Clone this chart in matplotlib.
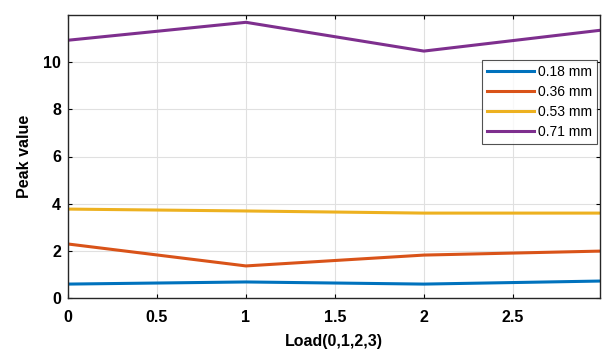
import matplotlib
matplotlib.use("Agg")
import matplotlib.pyplot as plt

loads = [0, 1, 2, 3]
labels = ["0.18 mm", "0.36 mm", "0.53 mm", "0.71 mm"]
s018 = [0.59, 0.68, 0.59, 0.72]
s036 = [2.29, 1.36, 1.82, 1.99]
s053 = [3.77, 3.69, 3.60, 3.60]
s071 = [10.93, 11.69, 10.47, 11.36]
colors = ["#0072BD", "#D95319", "#EDB120", "#7E2F8E"]

plt.rcParams['font.family'] = ['Liberation Sans', 'DejaVu Sans']
fig = plt.figure(figsize=(6.04, 3.52), dpi=100)
ax = fig.add_axes([68/604, 1-298/352, 532/604, 283/352])
for s, c, l in zip([s018, s036, s053, s071], colors, labels):
    ax.plot(loads, s, color=c, lw=2.2, label=l)
ax.set_xlim(0, 2.99)
ax.set_ylim(0, 12)
ax.set_xticks([0, 0.5, 1, 1.5, 2, 2.5])
ax.set_xticklabels(["0", "0.5", "1", "1.5", "2", "2.5"])
ax.set_yticks([0, 2, 4, 6, 8, 10])
ax.grid(True, color="#e0e0e0", lw=0.8)
ax.tick_params(direction="in", length=3, labelsize=11.5, width=0.8, top=True, right=True)
ax.tick_params(axis="x", pad=9)
ax.tick_params(axis="y", pad=5)
for lab in ax.get_xticklabels() + ax.get_yticklabels():
    lab.set_fontweight("bold")
for sp in ax.spines.values():
    sp.set_linewidth(1.0)
    sp.set_color("#262626")
ax.set_xlabel("Load(0,1,2,3)", fontsize=11.5, fontweight="bold", labelpad=6)
ax.set_ylabel("Peak value", fontsize=11.5, fontweight="bold", labelpad=8)
leg = ax.legend(loc="upper right", bbox_to_anchor=(0.9945, 0.84), fontsize=10,
                frameon=True, fancybox=False, edgecolor="#262626", handlelength=3.4,
                handletextpad=0.3, borderpad=0.35, labelspacing=0.42, borderaxespad=0)
leg.get_frame().set_linewidth(0.8)
fig.savefig("out.png", dpi=100)
